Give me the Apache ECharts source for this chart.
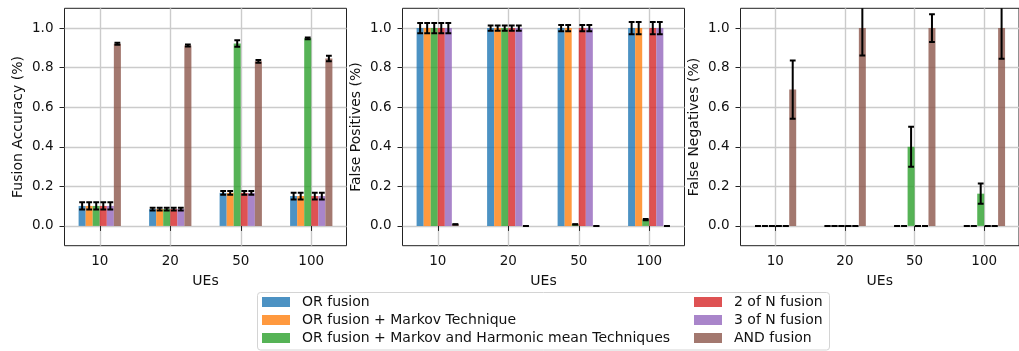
<!DOCTYPE html>
<html>
<head>
<meta charset="utf-8">
<title>Fusion performance by number of UEs</title>
<script src="https://cdn.jsdelivr.net/npm/echarts@6/dist/echarts.min.js"></script>
<style>
  html, body { margin: 0; padding: 0; background: #fff; }
  #chart { width: 1019px; height: 351px; }
</style>
</head>
<body>
<div id="chart"></div>
<script>
// Categories on the x axis (number of UEs)
const categories = ['10', '20', '50', '100'];

// Fusion schemes, one bar per scheme in every group
const seriesNames = [
  'OR fusion',
  'OR fusion + Markov Technique',
  'OR fusion + Markov and Harmonic mean Techniques',
  '2 of N fusion',
  '3 of N fusion',
  'AND fusion'
];
const seriesColors = [
  'rgba(31,119,180,0.8)',
  'rgba(255,127,14,0.8)',
  'rgba(44,160,44,0.8)',
  'rgba(214,39,40,0.8)',
  'rgba(148,103,189,0.8)',
  'rgba(140,86,75,0.8)'
];

// Shared y tick labels
const yTicks = [0.0, 0.2, 0.4, 0.6, 0.8, 1.0];

// Fusion accuracy: mean and error per scheme (rows) and UE count (columns)
const accuracyMean = [
  [0.101, 0.085, 0.167, 0.151],
  [0.101, 0.085, 0.167, 0.151],
  [0.101, 0.085, 0.922, 0.948],
  [0.101, 0.085, 0.167, 0.151],
  [0.101, 0.085, 0.167, 0.151],
  [0.921, 0.912, 0.832, 0.846]
];
const accuracyErr = [
  [0.018, 0.007, 0.009, 0.017],
  [0.018, 0.007, 0.009, 0.017],
  [0.018, 0.007, 0.016, 0.005],
  [0.018, 0.007, 0.009, 0.017],
  [0.018, 0.007, 0.009, 0.017],
  [0.005, 0.005, 0.007, 0.014]
];

// False positives
const falsePosMean = [
  [1.0, 1.0, 1.0, 1.0],
  [1.0, 1.0, 1.0, 1.0],
  [1.0, 1.0, 0.008, 0.032],
  [1.0, 1.0, 1.0, 1.0],
  [1.0, 1.0, 1.0, 1.0],
  [0.008, 0.0, 0.0, 0.0]
];
const falsePosErr = [
  [0.026, 0.013, 0.016, 0.031],
  [0.026, 0.013, 0.016, 0.031],
  [0.026, 0.013, 0.001, 0.003],
  [0.026, 0.013, 0.016, 0.031],
  [0.026, 0.013, 0.016, 0.031],
  [0.001, 0.0, 0.0, 0.0]
];

// False negatives
const falseNegMean = [
  [0.0, 0.0, 0.0, 0.0],
  [0.0, 0.0, 0.0, 0.0],
  [0.0, 0.0, 0.400, 0.163],
  [0.0, 0.0, 0.0, 0.0],
  [0.0, 0.0, 0.0, 0.0],
  [0.689, 1.0, 1.0, 1.0]
];
const falseNegErr = [
  [0.0, 0.0, 0.0, 0.0],
  [0.0, 0.0, 0.0, 0.0],
  [0.0, 0.0, 0.101, 0.051],
  [0.0, 0.0, 0.0, 0.0],
  [0.0, 0.0, 0.0, 0.0],
  [0.147, 0.138, 0.070, 0.155]
];

const panels = [
  { title: 'Fusion Accuracy (%)', mean: accuracyMean, err: accuracyErr },
  { title: 'False Positives (%)', mean: falsePosMean, err: falsePosErr },
  { title: 'False Negatives (%)', mean: falseNegMean, err: falseNegErr }
];

const FONT = 'DejaVu Sans';
const TEXT = '#111';
const GRID_LINE = '#cbcbcb';
const SPINE = '#222';
const BAR_FRACTION = 0.1;      // bar width as a share of one category band
const CAP_HALF = 2.9;          // half width of the error bar caps, px
const gridLefts = [64.5, 402.5, 740.5];
const GRID_W = 282, GRID_TOP = 8.3, GRID_H = 237.4;

const grids = [], xAxes = [], yAxes = [], series = [];

panels.forEach((panel, p) => {
  grids.push({
    left: gridLefts[p], top: GRID_TOP, width: GRID_W, height: GRID_H,
    show: true, borderColor: SPINE, borderWidth: 1, backgroundColor: 'transparent'
  });
  xAxes.push({
    type: 'category', gridIndex: p, data: categories,
    name: 'UEs', nameLocation: 'middle', nameGap: 29,
    nameTextStyle: { fontFamily: FONT, fontSize: 14, color: TEXT },
    axisLine: { show: false },
    axisTick: { show: true, alignWithLabel: true, length: 5, lineStyle: { color: SPINE, width: 1 } },
    axisLabel: { margin: 9, fontFamily: FONT, fontSize: 13.5, color: TEXT },
    splitLine: { show: true, alignWithLabel: true, lineStyle: { color: GRID_LINE, width: 1.4 } }
  });
  yAxes.push({
    type: 'value', gridIndex: p, min: -0.1, max: 1.1,
    name: panel.title, nameLocation: 'middle', nameGap: 39,
    nameTextStyle: { fontFamily: FONT, fontSize: 14, color: TEXT },
    axisLine: { show: false },
    axisTick: { show: true, length: 5, customValues: yTicks, lineStyle: { color: SPINE, width: 1 } },
    axisLabel: {
      margin: 11, fontFamily: FONT, fontSize: 13.5, color: TEXT,
      customValues: yTicks, formatter: v => v.toFixed(1)
    },
    splitLine: { show: true, lineStyle: { color: GRID_LINE, width: 1.4 } }
  });

  // bars
  seriesNames.forEach((name, k) => {
    series.push({
      type: 'bar', name, xAxisIndex: p, yAxisIndex: p,
      data: panel.mean[k],
      barWidth: (BAR_FRACTION * 100) + '%', barGap: '0%',
      itemStyle: { color: seriesColors[k] },
      emphasis: { disabled: true },
      animation: false
    });
  });

  // error bars: [category index, low, high, scheme index]
  const errData = [];
  seriesNames.forEach((name, k) => {
    panel.mean[k].forEach((m, i) => {
      const e = panel.err[k][i];
      errData.push([i, m - e, m + e, k]);
    });
  });
  series.push({
    type: 'custom', xAxisIndex: p, yAxisIndex: p, clip: true,
    data: errData, encode: { x: 0, y: [1, 2] }, z: 5, silent: true, animation: false,
    renderItem(params, api) {
      const ci = api.value(0), lo = api.value(1), hi = api.value(2), k = api.value(3);
      const band = api.size([1, 0])[0];
      const x = api.coord([ci, 0])[0] + (k - (seriesNames.length - 1) / 2) * BAR_FRACTION * band;
      const yLo = api.coord([ci, lo])[1];
      const yHi = api.coord([ci, hi])[1];
      const style = { stroke: '#000', lineWidth: 2 };
      return {
        type: 'group',
        children: [
          { type: 'line', shape: { x1: x, y1: yLo, x2: x, y2: yHi }, style },
          { type: 'line', shape: { x1: x - CAP_HALF, y1: yLo, x2: x + CAP_HALF, y2: yLo }, style },
          { type: 'line', shape: { x1: x - CAP_HALF, y1: yHi, x2: x + CAP_HALF, y2: yHi }, style }
        ]
      };
    }
  });
});

const legendText = { fontFamily: FONT, fontSize: 14, color: TEXT, padding: [0, 0, 0, 7] };
const legendCommon = {
  orient: 'vertical', top: 295, itemWidth: 28, itemHeight: 10, itemGap: 4,
  icon: 'rect', selectedMode: false, padding: 0, textStyle: legendText
};

const option = {
  animation: false,
  backgroundColor: '#fff',
  grid: grids,
  xAxis: xAxes,
  yAxis: yAxes,
  legend: [
    Object.assign({ left: 262, data: seriesNames.slice(0, 3) }, legendCommon),
    Object.assign({ left: 694, data: seriesNames.slice(3) }, legendCommon)
  ],
  graphic: [{
    type: 'rect', z: -1,
    shape: { x: 257.5, y: 292.5, width: 572, height: 57.5, r: 3 },
    style: { fill: 'rgba(255,255,255,0.8)', stroke: '#d4d4d4', lineWidth: 1 }
  }],
  series
};

const chart = echarts.init(document.getElementById('chart'), null, { renderer: 'canvas' });
chart.setOption(option);
</script>
</body>
</html>
